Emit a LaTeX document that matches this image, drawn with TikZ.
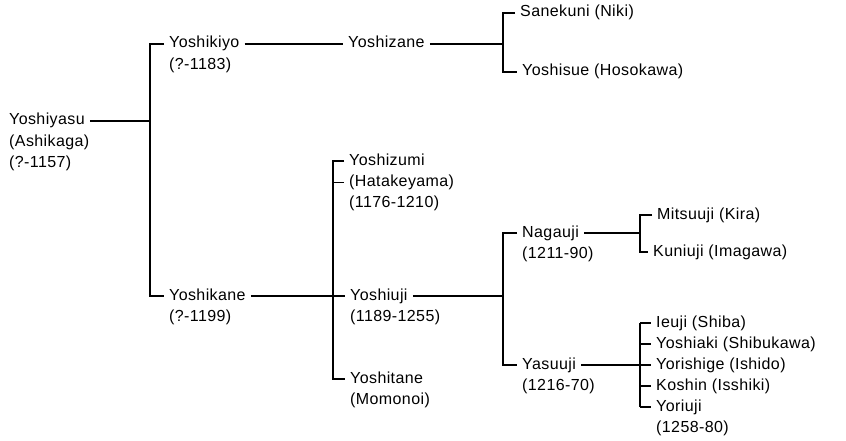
\documentclass[tikz,border=0pt]{standalone}
\usepackage{fontspec}
\setmainfont{Liberation Sans}[LetterSpace=2.5]
\usetikzlibrary{positioning}

\tikzset{
  person/.style={anchor=west, inner xsep=5pt, inner ysep=3.5pt, text height=11pt, text depth=3pt,
                 font=\fontsize{16}{21}\selectfont},
  dates/.style={person, anchor=north west},
  link/.style={line width=1.3pt}
}

\begin{document}
\begin{tikzpicture}[x=1pt, y=-1pt]
        \useasboundingbox (0,0) rectangle (846,441);
        % bus lines
        \coordinate (b1) at (150,0);
        \coordinate (b2) at (503,0);
        \coordinate (b3) at (333,0);
        \coordinate (b4) at (503,0);
        \coordinate (b5) at (640,0);
        \coordinate (b6) at (640,0);

        % First generation
        \node[person] (yoshiyasu) at (4,121) {Yoshiyasu};
        \node[dates] (yoshiyasu2) at (yoshiyasu.south west) {(Ashikaga)};
        \node[dates] (yoshiyasu3) at (yoshiyasu2.south west) {(?-1157)};

        % Second generation
        \node[person] (yoshikiyo) at (164,44) {Yoshikiyo};
        \node[dates] (yoshikiyo2) at (yoshikiyo.south west) {(?-1183)};
        \node[person] (yoshikane) at (164,296) {Yoshikane};
        \node[dates] (yoshikane2) at (yoshikane.south west) {(?-1199)};
        \draw[link] (yoshiyasu) -- (yoshiyasu -| b1);
        \draw[link] (yoshikiyo.west) -- (yoshikiyo.west -| b1) -- (yoshikane.west -| b1) -- (yoshikane.west);

        % Yoshikiyo line
        \node[person] (yoshizane) at (343,44) {Yoshizane};
        \draw[link] (yoshikiyo) -- (yoshizane);
        \node[person] (sanekuni) at (515,13) {Sanekuni (Niki)};
        \node[person] (yoshisue) at (517,72) {Yoshisue (Hosokawa)};
        \draw[link] (yoshizane) -- (yoshizane -| b2);
        \draw[link] (sanekuni.west) -- (sanekuni.west -| b2) -- (yoshisue.west -| b2) -- (yoshisue.west);

        % Yoshikane line
        \node[person] (yoshizumi) at (344,161) {Yoshizumi};
        \node[dates] (yoshizumi2) at (yoshizumi.south west) {(Hatakeyama)};
        \node[dates] (yoshizumi3) at (yoshizumi2.south west) {(1176-1210)};
        \node[person] (yoshiuji) at (345,296) {Yoshiuji};
        \node[dates] (yoshiuji2) at (yoshiuji.south west) {(1189-1255)};
        \node[person] (yoshitane) at (345,379) {Yoshitane};
        \node[dates] (yoshitane2) at (yoshitane.south west) {(Momonoi)};
        \draw[link] (yoshikane) -- (yoshiuji);
        \draw[link] (yoshizumi.west) -- (yoshizumi.west -| b3) -- (yoshitane.west -| b3) -- (yoshitane.west);
        \draw[link] (yoshizumi2.west -| b3) -- (yoshizumi2.west);

        % Yoshiuji line
        \node[person] (nagauji) at (517,233) {Nagauji};
        \node[dates] (nagauji2) at (nagauji.south west) {(1211-90)};
        \node[person] (yasuuji) at (517,365) {Yasuuji};
        \node[dates] (yasuuji2) at (yasuuji.south west) {(1216-70)};
        \draw[link] (yoshiuji) -- (yoshiuji -| b4);
        \draw[link] (nagauji.west) -- (nagauji.west -| b4) -- (yasuuji.west -| b4) -- (yasuuji.west);

        % Nagauji line
        \node[person] (mitsuuji) at (652,215) {Mitsuuji (Kira)};
        \node[person] (kuniuji) at (648,252) {Kuniuji (Imagawa)};
        \draw[link] (nagauji) -- (nagauji -| b5);
        \draw[link] (mitsuuji.west) -- (mitsuuji.west -| b5) -- (kuniuji.west -| b5) -- (kuniuji.west);

        % Yasuuji line
        \foreach \y/\nm/\txt in {323/ieuji/Ieuji (Shiba), 344/yoshiaki/Yoshiaki (Shibukawa),
                365/yorishige/Yorishige (Ishido), 386/koshin/Koshin (Isshiki), 407/yoriuji/Yoriuji} {
        \node[person] (\nm) at (651,\y) {\txt};
        \draw[link] (\nm.west -| b6) -- (\nm.west);
        }
        \node[dates] (yoriuji2) at (yoriuji.south west) {(1258-80)};
        \draw[link] (yasuuji) -- (yasuuji -| b6);
        \draw[link] (ieuji.west -| b6) -- (yoriuji.west -| b6);
\end{tikzpicture}
\end{document}
